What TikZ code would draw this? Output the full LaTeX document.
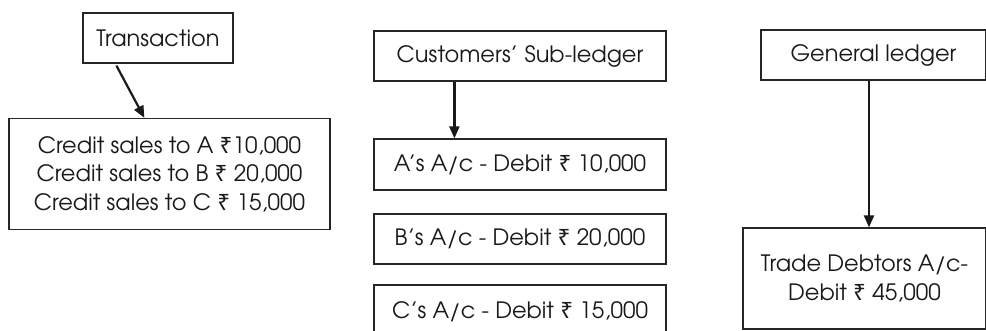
\documentclass[tikz,border=0pt]{standalone}
\usepackage{fontspec}
\setmainfont{texgyreadventor-regular.otf}
\newfontfamily\rupee{Noto Sans}
\newcommand{\Rs}{{\rupee ₹}}
\usetikzlibrary{arrows.meta,calc}
\begin{document}
\begin{tikzpicture}[x=1pt,y=-1pt,
  box/.style={draw=black!85, line width=1.2pt, inner sep=0pt, font=\fontsize{22.5}{28.5}\selectfont, text=black!90, align=center},
  conn/.style={line width=2.2pt, draw=black!90, -{Triangle[length=12pt,width=10pt]}}]
\useasboundingbox (0,0) rectangle (986,331);
\clip (0,0) rectangle (986,331);
\node[box, minimum width=150, minimum height=50] (tr) at (158,38) {Transaction};
\node[box, minimum width=321, minimum height=111] (cs) at (169.5,174) {Credit sales to A \Rs10,000\\Credit sales to B \Rs{} 20,000\\Credit sales to C \Rs{} 15,000};
\node[box, minimum width=292, minimum height=50] (sub) at (520,56) {Customers’ Sub-ledger};
\node[box, minimum width=292, minimum height=51] (a) at (520,164.5) {A’s A/c - Debit \Rs{} 10,000};
\node[box, minimum width=292, minimum height=50] (b) at (520,239) {B’s A/c - Debit \Rs{} 20,000};
\node[box, minimum width=292, minimum height=54] (c) at (520,312) {C’s A/c - Debit \Rs{} 15,000};
\node[box, minimum width=225, minimum height=50] (gl) at (873.5,55) {General ledger};
\node[box, minimum width=243, minimum height=101] (td) at (864.5,278.5) {Trade Debtors A/c-\\Debit \Rs{} 45,000};
\coordinate (t1) at ($(tr.south west)+(34,2)$);
\coordinate (t2) at ($(cs.north west)+(136,0)$);
\draw[conn] (t1) -- (t2);
\coordinate (s1) at ($(sub.south west)+(81,0)$);
\coordinate (s2) at ($(a.north west)+(81,0)$);
\draw[conn] (s1) -- (s2);
\coordinate (g1) at ($(gl.south)+(-4.5,0)$);
\coordinate (g2) at ($(td.north)+(4.5,0)$);
\draw[conn] (g1) -- (g2);
\end{tikzpicture}
\end{document}
